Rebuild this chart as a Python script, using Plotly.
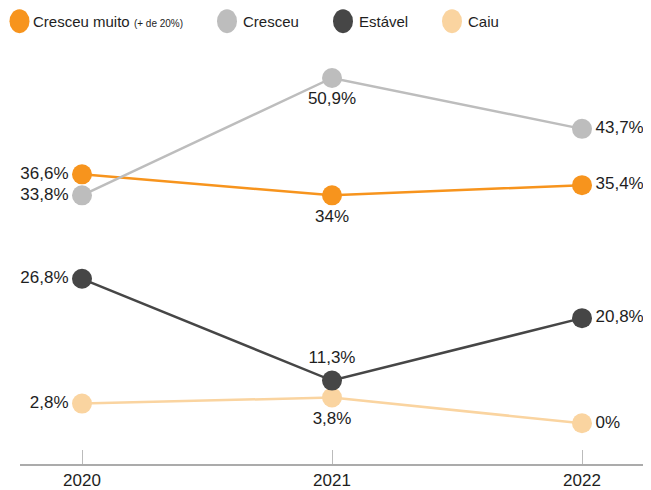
import plotly.graph_objects as go

years = ["2020", "2021", "2022"]

# series: plotted values and printed labels
cresceu_muito = [36.7, 33.6, 35.1]
cresceu_muito_txt = ["36,6%", "34%", "35,4%"]
cresceu = [33.6, 50.9, 43.4]
cresceu_txt = ["33,8%", "50,9%", "43,7%"]
estavel = [21.3, 6.3, 15.5]
estavel_txt = ["26,8%", "11,3%", "20,8%"]
caiu = [2.9, 3.8, 0.0]
caiu_txt = ["2,8%", "3,8%", "0%"]

colors = {"Cresceu muito": "#F7941D", "Cresceu": "#BDBDBD",
          "Estável": "#464646", "Caiu": "#FAD4A0"}

FONT = "Liberation Sans, Arial, sans-serif"
OFF = 8  # page body margin
W, H = 651 - OFF, 490 - OFF
ML, MR, MT, MB = 12, 0, 32, 23

fig = go.Figure()

def add_series(name, ys, txt, positions):
    fig.add_trace(go.Scatter(
        x=[0, 1, 2], y=ys, mode="lines+markers+text", name=name,
        line=dict(color=colors[name], width=2.5),
        marker=dict(color=colors[name], size=20),
        text=txt, textposition=positions,
        textfont=dict(family=FONT, size=17, color="#1e1e1e"),
        cliponaxis=False, hoverinfo="skip", showlegend=False,
    ))

# drawing order (later = on top)
add_series("Caiu", caiu, caiu_txt, ["middle left", "bottom center", "middle right"])
add_series("Estável", estavel, estavel_txt, ["middle left", "top center", "middle right"])
add_series("Cresceu muito", cresceu_muito, cresceu_muito_txt, ["middle left", "bottom center", "middle right"])
add_series("Cresceu", cresceu, cresceu_txt, ["middle left", "bottom center", "middle right"])

# custom legend along the top (positions given in page pixels)
def px_to_paper_x(px):
    return (px - OFF - ML) / (W - ML - MR)

def px_to_paper_y(py):
    return (H - MB - (py - OFF)) / (H - MT - MB)

legend_items = [
    ("Cresceu muito", 19.5, 31, "Cresceu muito <span style='font-size:10px'>(+ de 20%)</span>"),
    ("Cresceu", 227, 241, "Cresceu"),
    ("Estável", 343, 357, "Estável"),
    ("Caiu", 452, 466, "Caiu"),
]
ly = px_to_paper_y(21)
shapes = []
annotations = []
for name, cx, tx, label in legend_items:
    shapes.append(dict(
        type="circle", xref="paper", yref="paper",
        xsizemode="pixel", ysizemode="pixel",
        xanchor=px_to_paper_x(cx), yanchor=ly,
        x0=-10, x1=10, y0=-12, y1=12,
        fillcolor=colors[name], line=dict(width=0),
    ))
    annotations.append(dict(
        x=px_to_paper_x(tx), y=ly, xref="paper", yref="paper",
        xanchor="left", yanchor="middle", showarrow=False,
        text=label, font=dict(family=FONT, size=15, color="#1e1e1e"),
    ))

fig.update_layout(
    width=W, height=H,
    margin=dict(l=ML, r=MR, t=MT, b=MB),
    paper_bgcolor="white", plot_bgcolor="white",
    shapes=shapes, annotations=annotations,
    showlegend=False,
)
fig.update_xaxes(
    range=[-0.248, 2.276], tickvals=[0, 1, 2], ticktext=years,
    showgrid=False, zeroline=False,
    showline=True, linecolor="#ABABAB", linewidth=2,
    ticks="inside", ticklen=14, tickcolor="#BBBBBB", tickwidth=1,
    tickfont=dict(family=FONT, size=17, color="#1e1e1e"),
)
fig.update_yaxes(
    range=[-6.0, 56.5], visible=False, showgrid=False, zeroline=False,
)

fig.write_html("out.html")
